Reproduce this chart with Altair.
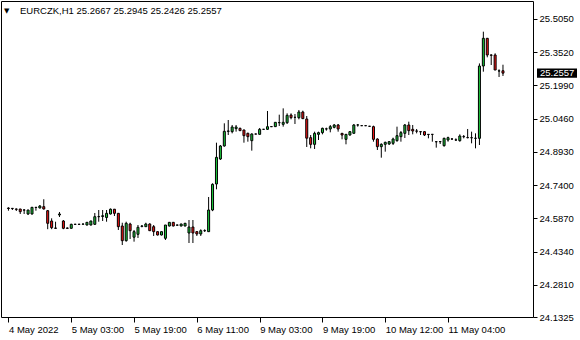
import altair as alt
import pandas as pd

symbol = "EURCZK,H1"

opens = [24.6345, 24.6330, 24.6299, 24.6299, 24.6253, 24.6069, 24.6069, 24.6377, 24.6345, 24.6407,
         24.6221, 24.5746, 24.5424, 24.6023, 24.5746, 24.5424, 24.5410, 24.5594, 24.5590, 24.5600,
         24.5562, 24.5562, 24.5594, 24.5945, 24.5954, 24.5908, 24.6069, 24.6290, 24.6100, 24.5516,
         24.4840, 24.5608, 24.5000, 24.5134, 24.5500, 24.5485, 24.5608, 24.5485, 24.5255, 24.5102,
         24.4950, 24.5516, 24.5686, 24.5555, 24.5516, 24.5516, 24.5194, 24.5470, 24.5255, 24.5148,
         24.5300, 24.5255, 24.6253, 24.7451, 24.8602, 24.9201, 24.9877, 24.9862, 25.0000, 25.0015,
         24.9938, 24.9785, 24.9446, 24.9754, 24.9738, 24.9969, 24.9969, 25.0090, 25.0092, 25.0275,
         25.0199, 25.0275, 25.0628, 25.0521, 25.0505, 25.0767, 25.0444, 24.9584, 24.9277, 24.9738,
         24.9815, 24.9984, 24.9984, 25.0061, 25.0168, 24.9785, 24.9508, 24.9707, 24.9785, 25.0168,
         25.0137, 25.0137, 25.0107, 25.0091, 24.9523, 24.9170, 24.9278, 24.9293, 24.9324, 24.9446,
         24.9631, 24.9784, 25.0168, 24.9969, 24.9892, 24.9861, 24.9861, 24.9738, 24.9738, 24.9400,
         24.9400, 24.9216, 24.9477, 24.9523, 24.9477, 24.9446, 24.9631, 24.9585, 24.9585, 24.9554,
         24.9554, 25.2885, 25.4161, 25.3392, 25.3392, 25.2655, 25.2667]
highs = [24.6377, 24.6345, 24.6322, 24.6305, 24.6299, 24.6260, 24.6391, 24.6391, 24.6483, 24.6748,
         24.6253, 24.5870, 24.5714, 24.6161, 24.5792, 24.5447, 24.5620, 24.5620, 24.5620, 24.5625,
         24.5700, 24.5760, 24.6115, 24.6253, 24.6253, 24.6253, 24.6322, 24.6299, 24.6115, 24.5667,
         24.5714, 24.5667, 24.5332, 24.5562, 24.5562, 24.5667, 24.5640, 24.5562, 24.5260, 24.5260,
         24.5562, 24.5690, 24.5690, 24.5580, 24.5620, 24.5660, 24.5792, 24.5792, 24.5286, 24.5363,
         24.5363, 24.6852, 24.7482, 24.9354, 24.9247, 25.0245, 25.0398, 25.0168, 25.0168, 25.0045,
         24.9950, 24.9815, 24.9784, 24.9770, 25.0030, 24.9985, 25.0813, 25.0100, 25.0306, 25.0643,
         25.0935, 25.0705, 25.0705, 25.0675, 25.0859, 25.0828, 25.0582, 24.9707, 24.9861, 24.9861,
         25.0045, 25.0045, 25.0168, 25.0214, 25.0214, 24.9800, 24.9754, 24.9892, 25.0214, 25.0214,
         25.0155, 25.0155, 25.0125, 25.0137, 24.9554, 24.9324, 24.9400, 24.9431, 24.9585, 25.0091,
         24.9892, 25.0214, 25.0321, 25.0168, 24.9984, 24.9880, 24.9877, 24.9750, 24.9750, 24.9410,
         24.9410, 24.9585, 24.9631, 24.9561, 24.9554, 24.9738, 24.9707, 24.9984, 24.9861, 24.9784,
         25.3004, 25.4466, 25.4175, 25.3424, 25.3470, 25.2732, 25.2945]
lows = [24.6221, 24.6253, 24.6207, 24.6069, 24.6069, 24.6023, 24.6046, 24.6221, 24.6330, 24.6276,
        24.5369, 24.5369, 24.5378, 24.5931, 24.5369, 24.5378, 24.5400, 24.5570, 24.5570, 24.5580,
        24.5540, 24.5540, 24.5562, 24.5714, 24.5746, 24.5714, 24.6046, 24.5977, 24.5332, 24.4641,
        24.4795, 24.4918, 24.4795, 24.4964, 24.5455, 24.5485, 24.5286, 24.5056, 24.5080, 24.5080,
        24.4871, 24.5495, 24.5500, 24.5530, 24.5500, 24.5500, 24.4733, 24.4733, 24.5056, 24.5056,
        24.5240, 24.5240, 24.6200, 24.7206, 24.8556, 24.9170, 24.9707, 24.9784, 24.9862, 24.9892,
        24.9354, 24.9400, 24.8987, 24.9740, 24.9730, 24.9950, 24.9938, 25.0080, 25.0080, 25.0122,
        25.0091, 25.0214, 25.0429, 25.0214, 25.0429, 25.0444, 24.9155, 24.9094, 24.9063, 24.9477,
        24.9738, 24.9907, 24.9831, 25.0015, 24.9861, 24.9508, 24.9278, 24.9677, 24.9777, 25.0091,
        25.0120, 25.0120, 25.0090, 24.9400, 24.9017, 24.8663, 24.8940, 24.9247, 24.9247, 24.9400,
        24.9400, 24.9569, 24.9707, 24.9738, 24.9784, 24.9707, 24.9661, 24.9554, 24.9400, 24.9125,
        24.9293, 24.9170, 24.9400, 24.9477, 24.9431, 24.9400, 24.9554, 24.9554, 24.9324, 24.9094,
        24.9247, 25.2624, 25.3286, 25.2931, 25.2701, 25.2379, 25.2426]
closes = [24.6322, 24.6320, 24.6285, 24.6176, 24.6250, 24.6253, 24.6377, 24.6370, 24.6437, 24.6299,
          24.5640, 24.5439, 24.5410, 24.6069, 24.5410, 24.5410, 24.5594, 24.5590, 24.5594, 24.5608,
          24.5686, 24.5746, 24.5945, 24.5950, 24.5990, 24.6100, 24.6290, 24.6100, 24.5485, 24.4840,
          24.5640, 24.5300, 24.5255, 24.5457, 24.5516, 24.5608, 24.5300, 24.5255, 24.5102, 24.5255,
          24.5562, 24.5686, 24.5516, 24.5562, 24.5608, 24.5640, 24.5470, 24.5194, 24.5148, 24.5300,
          24.5305, 24.6253, 24.7436, 24.8679, 24.9201, 24.9877, 24.9892, 25.0076, 25.0076, 24.9907,
          24.9677, 24.9630, 24.9754, 24.9750, 24.9969, 24.9970, 25.0090, 25.0095, 25.0291, 25.0280,
          25.0291, 25.0613, 25.0505, 25.0520, 25.0767, 25.0459, 24.9561, 24.9277, 24.9784, 24.9815,
          25.0015, 24.9990, 25.0091, 25.0168, 24.9984, 24.9707, 24.9738, 24.9861, 25.0168, 25.0170,
          25.0137, 25.0135, 25.0110, 24.9508, 24.9170, 24.9278, 24.9370, 24.9400, 24.9523, 24.9677,
          24.9815, 25.0168, 24.9907, 24.9892, 24.9885, 24.9855, 24.9707, 24.9730, 24.9735, 24.9395,
          24.9405, 24.9554, 24.9585, 24.9525, 24.9480, 24.9661, 24.9635, 24.9590, 24.9580, 24.9560,
          25.2885, 25.4161, 25.3392, 25.3380, 25.2701, 25.2660, 25.2557]

tick_idx = [0, 16, 32, 48, 64, 80, 96, 112]
tick_labels = ["4 May 2022", "5 May 03:00", "5 May 19:00", "6 May 11:00",
               "9 May 03:00", "9 May 19:00", "10 May 12:00", "11 May 04:00"]
y_ticks = [25.5050, 25.3520, 25.1990, 25.0460, 24.8930, 24.7400, 24.5870, 24.4340, 24.2810, 24.1325]

UP = "#1CC83C"
DOWN = "#F51414"
FONT = "Liberation Sans"
FS = 9.5

n = len(closes)
df = pd.DataFrame({"i": list(range(n)), "open": opens, "high": highs, "low": lows, "close": closes})
df["dir"] = ["up" if c >= o else "down" for o, c in zip(opens, closes)]

label_expr = " : ".join(f"datum.value == {v} ? '{t}'" for v, t in zip(tick_idx, tick_labels)) + " : ''"

x_scale = alt.Scale(domain=[-0.625, 132.375], nice=False, zero=False)
y_scale = alt.Scale(domain=[24.1325, 25.5879], nice=False, zero=False)

x_axis = alt.Axis(values=tick_idx, labelExpr=label_expr, title=None, grid=False, domain=False,
                  tickColor="black", tickSize=5, labelAlign="left", labelPadding=2,
                  labelFont=FONT, labelFontSize=FS, labelColor="black",
                  labelFlush=False, labelOverlap=False, labelBound=False)
y_axis = alt.Axis(values=y_ticks, format=".4f", orient="right", title=None, grid=False, domain=False,
                  tickColor="black", tickSize=4, labelPadding=2,
                  labelFont=FONT, labelFontSize=FS, labelColor="black",
                  labelFlush=False, labelOverlap=False, labelBound=False)

base = alt.Chart(df)

wicks = base.mark_rule(color="black", strokeWidth=1).encode(
    x=alt.X("i:Q", scale=x_scale, axis=x_axis),
    y=alt.Y("low:Q", scale=y_scale, axis=y_axis),
    y2="high:Q",
)

bodies = base.mark_bar(size=2, stroke="black", strokeWidth=1).encode(
    x=alt.X("i:Q", scale=x_scale, axis=x_axis),
    y=alt.Y("open:Q", scale=y_scale, axis=y_axis),
    y2="close:Q",
    fill=alt.Fill("dir:N", scale=alt.Scale(domain=["up", "down"], range=[UP, DOWN]), legend=None),
)

last = pd.DataFrame({"close": [closes[-1]]})
price_box = alt.Chart(last).transform_calculate(
    top="datum.close + 0.021", bot="datum.close - 0.021"
).mark_rect(color="black", clip=False).encode(
    x=alt.value(536), x2=alt.value(576),
    y=alt.Y("top:Q", scale=y_scale, axis=y_axis), y2="bot:Q",
)
price_text = alt.Chart(last).transform_calculate(
    lbl="format(datum.close, '.4f')"
).mark_text(color="white", font=FONT, fontSize=FS, align="left", baseline="middle", clip=False).encode(
    x=alt.value(539), y=alt.Y("close:Q", scale=y_scale, axis=y_axis), text="lbl:N",
)

header_str = f"{symbol}  {opens[-1]:.4f} {highs[-1]:.4f} {lows[-1]:.4f} {closes[-1]:.4f}"
head = pd.DataFrame({"t": [header_str], "tri": ["\u25BC"]})
header = alt.Chart(head).mark_text(color="black", font=FONT, fontSize=FS, align="left",
                                   baseline="middle").encode(
    x=alt.value(19), y=alt.value(10), text="t:N")
tri = alt.Chart(head).mark_text(color="black", font="DejaVu Sans", fontSize=7, align="left",
                                baseline="middle").encode(
    x=alt.value(3), y=alt.value(10), text="tri:N")

chart = alt.layer(wicks, bodies, price_box, price_text, header, tri).properties(
    width=532, height=316,
    autosize="none",
    padding={"left": 1, "top": 1, "right": 47, "bottom": 23},
    background="white",
).configure_view(stroke="black", strokeWidth=1).configure_axis(labelOverlap=False, labelBound=False)

chart.save("out.html", embed_options={"renderer": "svg", "actions": False})
